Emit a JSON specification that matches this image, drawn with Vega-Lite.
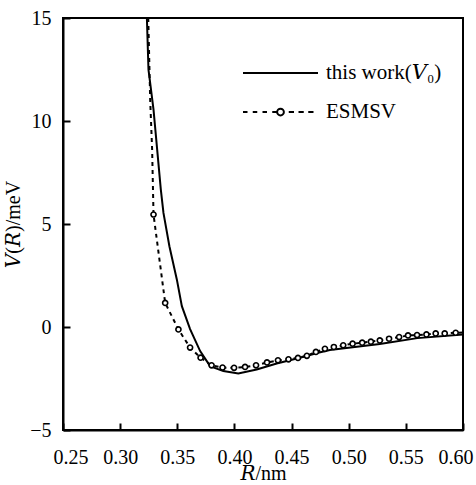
{
  "$schema": "https://vega.github.io/schema/vega-lite/v6.json",
  "width": 400,
  "height": 412,
  "autosize": "none",
  "padding": {"left": 63, "top": 18, "right": 13, "bottom": 55},
  "background": "white",
  "config": {
    "view": {"stroke": "black", "strokeWidth": 2},
    "font": "Liberation Serif",
    "axis": {
      "grid": false,
      "domainColor": "black",
      "domainWidth": 2,
      "labelFont": "Liberation Serif",
      "labelFontSize": 20,
      "labelColor": "black",
      "titleFont": "Liberation Serif, DejaVu Serif",
      "titleFontSize": 20,
      "titleFontWeight": "normal",
      "titleColor": "black"
    }
  },
  "datasets": {
    "work": [
      {"R": 0.3234, "V": 15},
      {"R": 0.3248, "V": 12.49},
      {"R": 0.3292, "V": 10.55},
      {"R": 0.3324, "V": 8.61},
      {"R": 0.3356, "V": 6.67},
      {"R": 0.3379, "V": 5.54},
      {"R": 0.3431, "V": 3.92},
      {"R": 0.3496, "V": 2.31},
      {"R": 0.354, "V": 1.01},
      {"R": 0.3612, "V": -0.1},
      {"R": 0.37, "V": -1.17},
      {"R": 0.3787, "V": -1.9},
      {"R": 0.3903, "V": -2.14},
      {"R": 0.4034, "V": -2.26},
      {"R": 0.4195, "V": -2.06},
      {"R": 0.437, "V": -1.77},
      {"R": 0.4573, "V": -1.49},
      {"R": 0.4733, "V": -1.25},
      {"R": 0.4835, "V": -1.12},
      {"R": 0.5272, "V": -0.82},
      {"R": 0.56, "V": -0.54},
      {"R": 0.6, "V": -0.36}
    ],
    "esmsv": [
      {"R": 0.3246, "V": 15, "circle": 0},
      {"R": 0.3263, "V": 11.0, "circle": 0},
      {"R": 0.328, "V": 8.6, "circle": 0},
      {"R": 0.3292, "V": 5.46, "circle": 1},
      {"R": 0.3394, "V": 1.17, "circle": 1},
      {"R": 0.351, "V": -0.12, "circle": 1},
      {"R": 0.3612, "V": -1.0, "circle": 1},
      {"R": 0.3704, "V": -1.49, "circle": 1},
      {"R": 0.38, "V": -1.86, "circle": 1},
      {"R": 0.3896, "V": -1.97, "circle": 1},
      {"R": 0.3997, "V": -1.98, "circle": 1},
      {"R": 0.4093, "V": -1.94, "circle": 1},
      {"R": 0.4189, "V": -1.86, "circle": 1},
      {"R": 0.4285, "V": -1.72, "circle": 1},
      {"R": 0.4381, "V": -1.62, "circle": 1},
      {"R": 0.4473, "V": -1.57, "circle": 1},
      {"R": 0.4556, "V": -1.5, "circle": 1},
      {"R": 0.4634, "V": -1.4, "circle": 1},
      {"R": 0.4713, "V": -1.21, "circle": 1},
      {"R": 0.4792, "V": -1.06, "circle": 1},
      {"R": 0.487, "V": -0.97, "circle": 1},
      {"R": 0.4952, "V": -0.89, "circle": 1},
      {"R": 0.5034, "V": -0.81, "circle": 1},
      {"R": 0.5118, "V": -0.76, "circle": 1},
      {"R": 0.5194, "V": -0.71, "circle": 1},
      {"R": 0.5272, "V": -0.65, "circle": 1},
      {"R": 0.5353, "V": -0.57, "circle": 1},
      {"R": 0.5441, "V": -0.49, "circle": 1},
      {"R": 0.5519, "V": -0.41, "circle": 1},
      {"R": 0.5598, "V": -0.39, "circle": 1},
      {"R": 0.568, "V": -0.36, "circle": 1},
      {"R": 0.5761, "V": -0.31, "circle": 1},
      {"R": 0.584, "V": -0.31, "circle": 1},
      {"R": 0.5936, "V": -0.28, "circle": 1},
      {"R": 0.6, "V": -0.27, "circle": 0}
    ],
    "legendrows": [
      {"series": "this work(𝑉₀)"},
      {"series": "ESMSV"}
    ]
  },
  "layer": [
    {
      "data": {"name": "work"},
      "mark": {"type": "line", "color": "black", "strokeWidth": 2, "clip": true},
      "encoding": {
        "x": {
          "field": "R", "type": "quantitative",
          "scale": {"domain": [0.25, 0.6], "nice": false, "zero": false},
          "axis": {"tickCount": 7, "format": ".2f", "title": "𝑅/nm", "tickColor": "black", "tickSize": -7, "tickWidth": 2, "labelPadding": 24, "titlePadding": -4, "labelFlush": true, "labelFlushOffset": 10, "zindex": 2}
        },
        "y": {
          "field": "V", "type": "quantitative",
          "scale": {"domain": [-5, 15], "nice": false, "zero": false},
          "axis": {"tickCount": 4, "title": "𝑉(𝑅)/meV", "tickColor": "black", "tickSize": -7, "tickWidth": 2, "labelPadding": 19, "titlePadding": 6, "zindex": 2}
        }
      }
    },
    {
      "data": {"name": "esmsv"},
      "mark": {"type": "line", "color": "black", "strokeWidth": 2, "strokeDash": [4, 4], "clip": true},
      "encoding": {
        "x": {"field": "R", "type": "quantitative"},
        "y": {"field": "V", "type": "quantitative"}
      }
    },
    {
      "data": {"name": "esmsv"},
      "transform": [{"filter": "datum.circle == 1"}],
      "mark": {"type": "point", "shape": "circle", "filled": true, "fill": "white", "stroke": "black", "strokeWidth": 1.6, "size": 26, "opacity": 1},
      "encoding": {
        "x": {"field": "R", "type": "quantitative"},
        "y": {"field": "V", "type": "quantitative"}
      }
    },
    {
      "data": {"name": "legendrows"},
      "mark": {"type": "point", "opacity": 0, "stroke": "black", "filled": false},
      "encoding": {
        "shape": {
          "field": "series", "type": "nominal",
          "scale": {
            "domain": ["this work(𝑉₀)", "ESMSV"],
            "range": [
              "M-1,0L1,0",
              "M-1,0L-0.88,0M-0.74,0L-0.62,0M-0.48,0L-0.36,0M-0.22,0L-0.09,0M0.09,0A0.09,0.09 0 1,1 -0.09,0A0.09,0.09 0 1,1 0.09,0M0.22,0L0.36,0M0.48,0L0.62,0M0.74,0L0.88,0"
            ]
          },
          "legend": {
            "title": null,
            "orient": "none",
            "legendX": 179,
            "legendY": 45,
            "padding": 0,
            "symbolSize": 5625,
            "symbolStrokeWidth": 2,
            "symbolStrokeColor": "black",
            "symbolFillColor": "transparent",
            "symbolOpacity": 1,
            "clipHeight": 20,
            "rowPadding": 18,
            "labelOffset": 7,
            "labelFont": "Liberation Serif, DejaVu Serif",
            "labelFontSize": 21,
            "labelColor": "black",
            "labelLimit": 300
          }
        }
      }
    }
  ]
}
